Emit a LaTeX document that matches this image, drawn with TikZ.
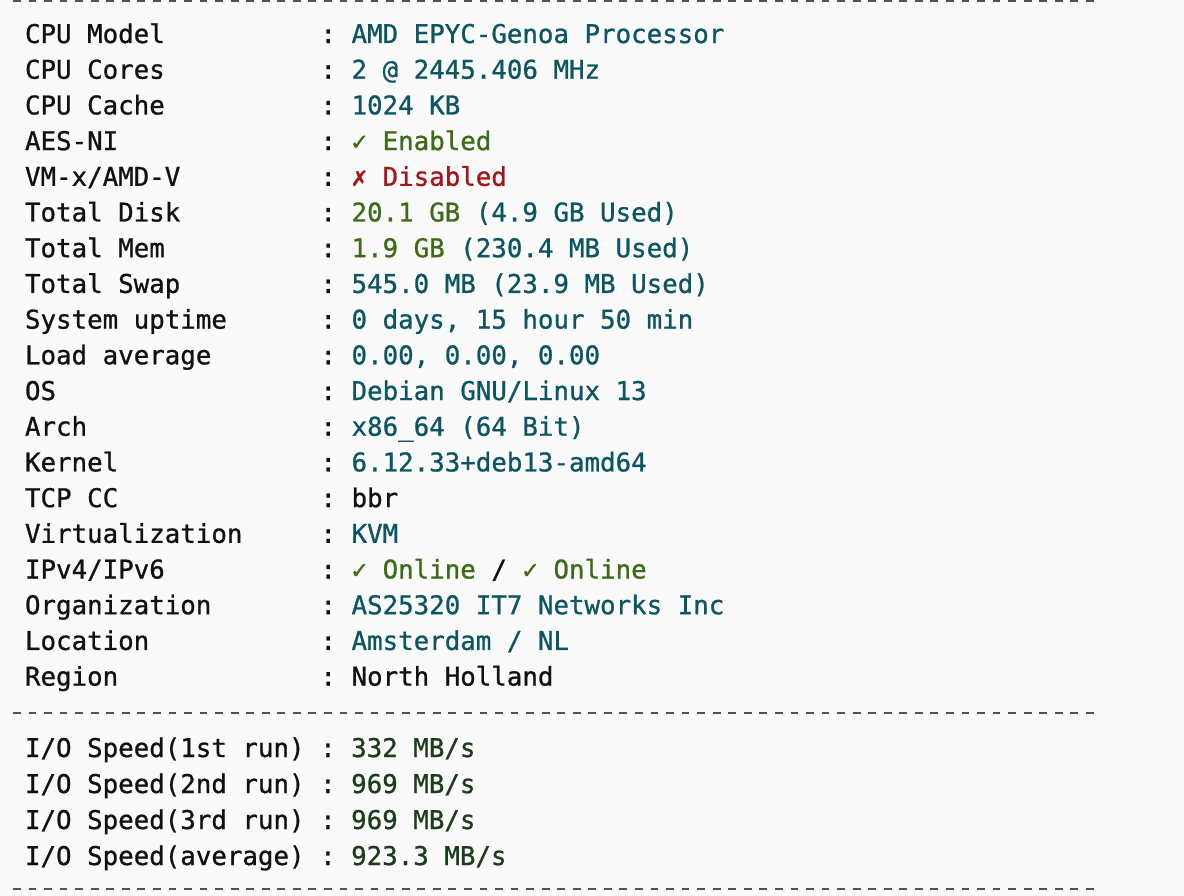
\documentclass[tikz,border=0pt]{standalone}
\usepackage{fontspec}
\setmonofont{DejaVu Sans Mono}[FakeBold=0.9]
\definecolor{bgc}{HTML}{FAFAFA}
\definecolor{lab}{HTML}{111111}
\definecolor{teal}{HTML}{0C5563}
\definecolor{grn}{HTML}{3D6C18}
\definecolor{rd}{HTML}{A3161A}
\definecolor{iog}{HTML}{1B3D1B}
\definecolor{dsh}{HTML}{505050}
\tikzset{
  txt/.style={anchor=base west, inner sep=0pt, outer sep=0pt, font=\ttfamily\fontsize{25.8}{30}\selectfont, text=lab},
  dashline/.style={draw=dsh, line width=2.2pt, dash pattern=on 7.8pt off 7.75pt}
}
\newcommand{\tl}[1]{\textcolor{teal}{#1}}
\newcommand{\gr}[1]{\textcolor{grn}{#1}}
\newcommand{\rdd}[1]{\textcolor{rd}{#1}}
\newcommand{\iov}[1]{\textcolor{iog}{#1}}
\begin{document}
\begin{tikzpicture}[x=1pt,y=1pt]
\fill[bgc] (0,0) rectangle (1184,-896);
\useasboundingbox (0,0) rectangle (1184,-896);
% dashed separators
\coordinate (d1a) at (13,-1);   \coordinate (d1b) at (1095,-1);
\coordinate (d2a) at (13,-713); \coordinate (d2b) at (1095,-713);
\coordinate (d3a) at (13,-889); \coordinate (d3b) at (1095,-889);
\draw[dashline] (d1a) -- (d1b);
\draw[dashline] (d2a) -- (d2b);
\draw[dashline] (d3a) -- (d3b);
% rows
\def\lx{25}
\def\vx{320.5}
\node[txt] (l0)  at (\lx,-43.0)  {CPU Model};
\node[txt] (v0)  at (\vx,-43.0)  {: \tl{AMD EPYC-Genoa Processor}};
\node[txt] (l1)  at (\lx,-78.7)  {CPU Cores};
\node[txt] (v1)  at (\vx,-78.7)  {: \tl{2 @ 2445.406 MHz}};
\node[txt] (l2)  at (\lx,-114.4) {CPU Cache};
\node[txt] (v2)  at (\vx,-114.4) {: \tl{1024 KB}};
\node[txt] (l3)  at (\lx,-150.1) {AES-NI};
\node[txt] (v3)  at (\vx,-150.1) {: \gr{✓ Enabled}};
\node[txt] (l4)  at (\lx,-185.8) {VM-x/AMD-V};
\node[txt] (v4)  at (\vx,-185.8) {: \rdd{✗ Disabled}};
\node[txt] (l5)  at (\lx,-221.5) {Total Disk};
\node[txt] (v5)  at (\vx,-221.5) {: \gr{20.1 GB} \tl{(4.9 GB Used)}};
\node[txt] (l6)  at (\lx,-257.2) {Total Mem};
\node[txt] (v6)  at (\vx,-257.2) {: \gr{1.9 GB} \tl{(230.4 MB Used)}};
\node[txt] (l7)  at (\lx,-292.9) {Total Swap};
\node[txt] (v7)  at (\vx,-292.9) {: \tl{545.0 MB (23.9 MB Used)}};
\node[txt] (l8)  at (\lx,-328.6) {System uptime};
\node[txt] (v8)  at (\vx,-328.6) {: \tl{0 days, 15 hour 50 min}};
\node[txt] (l9)  at (\lx,-364.3) {Load average};
\node[txt] (v9)  at (\vx,-364.3) {: \tl{0.00, 0.00, 0.00}};
\node[txt] (l10) at (\lx,-400.0) {OS};
\node[txt] (v10) at (\vx,-400.0) {: \tl{Debian GNU/Linux 13}};
\node[txt] (l11) at (\lx,-435.7) {Arch};
\node[txt] (v11) at (\vx,-435.7) {: \tl{x86\_64 (64 Bit)}};
\node[txt] (l12) at (\lx,-471.4) {Kernel};
\node[txt] (v12) at (\vx,-471.4) {: \tl{6.12.33+deb13-amd64}};
\node[txt] (l13) at (\lx,-507.1) {TCP CC};
\node[txt] (v13) at (\vx,-507.1) {: bbr};
\node[txt] (l14) at (\lx,-542.8) {Virtualization};
\node[txt] (v14) at (\vx,-542.8) {: \tl{KVM}};
\node[txt] (l15) at (\lx,-578.5) {IPv4/IPv6};
\node[txt] (v15) at (\vx,-578.5) {: \gr{✓ Online} / \gr{✓ Online}};
\node[txt] (l16) at (\lx,-614.2) {Organization};
\node[txt] (v16) at (\vx,-614.2) {: \tl{AS25320 IT7 Networks Inc}};
\node[txt] (l17) at (\lx,-649.9) {Location};
\node[txt] (v17) at (\vx,-649.9) {: \tl{Amsterdam / NL}};
\node[txt] (l18) at (\lx,-685.6) {Region};
\node[txt] (v18) at (\vx,-685.6) {: North Holland};
% I/O
\node[txt] (io1) at (\lx,-757) {I/O Speed(1st run) : \iov{332 MB/s}};
\node[txt] (io2) at (\lx,-793) {I/O Speed(2nd run) : \iov{969 MB/s}};
\node[txt] (io3) at (\lx,-829) {I/O Speed(3rd run) : \iov{969 MB/s}};
\node[txt] (io4) at (\lx,-865) {I/O Speed(average) : \iov{923.3 MB/s}};
\end{tikzpicture}
\end{document}
